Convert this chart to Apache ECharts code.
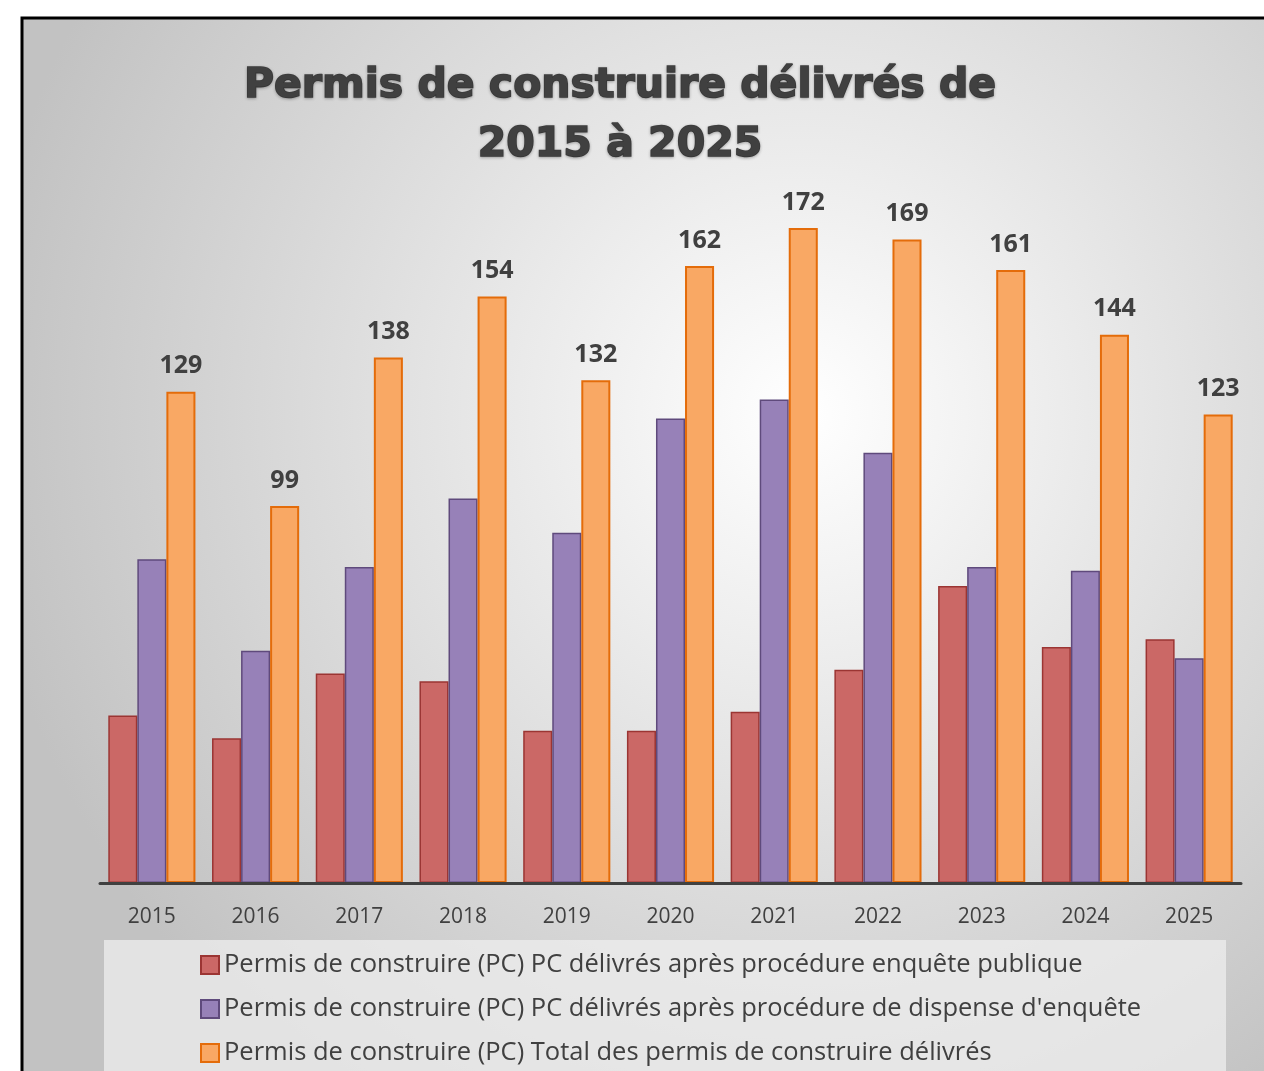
<!DOCTYPE html>
<html><head><meta charset="utf-8">
<script src="https://cdn.jsdelivr.net/npm/echarts@6/dist/echarts.min.js"></script>
<style>html,body{margin:0;padding:0;background:#fff}#c{width:1264px;height:1071px}</style>
</head><body><div id="c"></div>
<script>
const categories = ['2015','2016','2017','2018','2019','2020','2021','2022','2023','2024','2025'];
const enquetePublique = [44, 38, 55, 53, 40, 40, 45, 56, 78, 62, 64];
const dispenseEnquete = [85, 61, 83, 101, 92, 122, 127, 113, 83, 82, 59];
const totalPermis = [129, 99, 138, 154, 132, 162, 172, 169, 161, 144, 123];
const seriesNames = [
  'Permis de construire (PC) PC délivrés après procédure enquête publique',
  "Permis de construire (PC) PC délivrés après procédure de dispense d'enquête",
  'Permis de construire (PC) Total des permis de construire délivrés'
];

const chart = echarts.init(document.getElementById('c'));
const font = '"Open Sans", "Noto Sans", sans-serif';
chart.setOption({
  animation: false,
  backgroundColor: '#ffffff',
  graphic: [
    { type: 'rect', z: -20, shape: { x: 22, y: 18, width: 1300, height: 1100 },
      style: { fill: { type: 'radial', x: 0.6, y: 0.36, r: 0.75,
        colorStops: [{ offset: 0, color: '#ffffff' }, { offset: 1, color: '#c2c2c2' }] },
        stroke: '#000000', lineWidth: 3 } },
    { type: 'rect', z: -15, shape: { x: 104, y: 940, width: 1122, height: 200 },
      style: { fill: 'rgba(238,238,238,0.75)' } },
    { type: 'text', z: 10, x: 620, y: 57,
      style: { text: 'Permis de construire délivrés de\n2015 à 2025', fill: '#404040',
        font: '900 41px "DejaVu Sans", sans-serif', textAlign: 'center', lineHeight: 59,
        stroke: '#404040', lineWidth: 1.6,
        textShadowColor: 'rgba(0,0,0,0.25)', textShadowBlur: 3, textShadowOffsetY: 1 } }
  ],
  grid: { left: 100, right: 23, top: 121.4, bottom: 188, containLabel: false },
  legend: {
    orient: 'vertical', left: 195, top: 947, itemWidth: 18, itemHeight: 18, itemGap: 18,
    icon: 'rect',
    textStyle: { fontFamily: font, fontSize: 25.5, color: '#404040', lineHeight: 25 },
    data: seriesNames
  },
  xAxis: {
    type: 'category', data: categories, z: 5,
    axisLine: { lineStyle: { color: '#404040', width: 3 } },
    axisTick: { show: false },
    axisLabel: { fontFamily: font, fontSize: 21, color: '#404040', margin: 24 }
  },
  yAxis: { type: 'value', min: 0, max: 200, show: false, splitLine: { show: false } },
  series: [
    { name: seriesNames[0], type: 'bar', data: enquetePublique, barGap: '0%', barCategoryGap: '16%',
      itemStyle: { color: '#cb6866', borderColor: '#9b3533', borderWidth: 1.5 } },
    { name: seriesNames[1], type: 'bar', data: dispenseEnquete, barGap: '0%', barCategoryGap: '16%',
      itemStyle: { color: '#9781b8', borderColor: '#5f4a7c', borderWidth: 1.5 } },
    { name: seriesNames[2], type: 'bar', data: totalPermis, barGap: '0%', barCategoryGap: '16%',
      itemStyle: { color: '#f9a864', borderColor: '#e46c0a', borderWidth: 2 },
      label: { show: true, position: 'top', distance: 13, fontFamily: font, fontWeight: 'bold',
        fontSize: 25, color: '#404040' } }
  ]
});
</script></body></html>
